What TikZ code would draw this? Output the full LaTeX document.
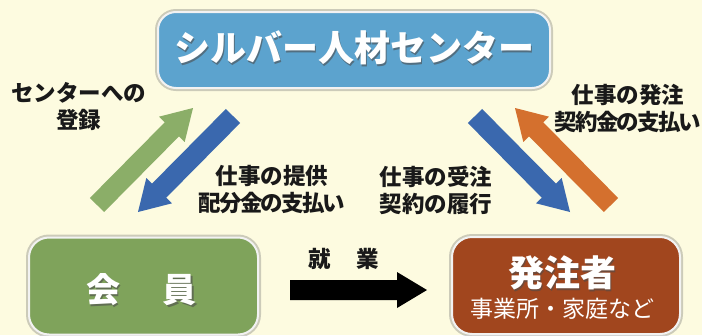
\documentclass[tikz,border=0pt]{standalone}
\usepackage{fontspec}
\newfontfamily\jp{Noto Sans CJK JP}
\newfontfamily\jpc{Noto Sans CJK JP}[LetterSpace=-8]
\usetikzlibrary{calc}
\definecolor{bg}{RGB}{253,251,224}
\definecolor{boxblue}{RGB}{92,163,206}
\definecolor{boxgreen}{RGB}{127,163,91}
\definecolor{boxbrown}{RGB}{161,70,30}
\definecolor{arrgreen}{RGB}{139,174,104}
\definecolor{arrblue}{RGB}{58,104,174}
\definecolor{arrorange}{RGB}{212,112,46}
\definecolor{txt}{RGB}{25,25,25}
\tikzset{
  panel/.style={rounded corners=18pt, draw=white!90!gray, line width=2pt,
    preaction={draw=black!55, line width=6pt, opacity=0.35}},
  lbl/.style={font=\jp\bfseries\fontsize{22.5}{27}\selectfont, text=txt, align=center, inner sep=0pt},
  wtext/.style={text=white, inner sep=0pt, align=center},
  shtext/.style={text=black!70, opacity=0.6, inner sep=0pt, align=center},
}
\newcommand\fatarrow[3]{%
  \coordinate (fa-n) at ($(#2)!30pt!(#1)$);
  \fill[#3] ($(#1)!10pt!90:(#2)$) -- ($(fa-n)!10pt!90:(#2)$) -- ($(fa-n)!18pt!90:(#2)$)
    -- (#2) -- ($(fa-n)!18pt!-90:(#2)$) -- ($(fa-n)!10pt!-90:(#2)$) -- ($(#1)!10pt!-90:(#2)$) -- cycle;}
\begin{document}
\begin{tikzpicture}[x=1pt,y=-1pt]
\useasboundingbox (0,0) rectangle (702,335);
\clip (0,0) rectangle (702,335);
\fill[bg] (0,0) rectangle (702,335);

% boxes
\node[panel, fill=boxblue, minimum width=392pt, minimum height=76pt] (center) at (354,50) {};
\node[panel, fill=boxgreen, rounded corners=20pt, minimum width=229pt, minimum height=97pt] (member) at (143.5,286) {};
\node[panel, fill=boxbrown, rounded corners=20pt, minimum width=228pt, minimum height=97pt] (client) at (566,285.5) {};

% box texts
\node[shtext, font=\jp\bfseries\fontsize{36}{40}\selectfont] at (355.5,49.5) {シルバー人材センター};
\node[wtext, font=\jp\bfseries\fontsize{36}{40}\selectfont] (centertext) at (354,48) {シルバー人材センター};
\node[shtext, font=\jp\bfseries\fontsize{34}{38}\selectfont] at (143,291.5) {会\hspace{43pt}員};
\node[wtext, font=\jp\bfseries\fontsize{34}{38}\selectfont] (membertext) at (141.5,290) {会\hspace{43pt}員};
\node[shtext, font=\jp\bfseries\fontsize{36}{40}\selectfont] at (563,274.5) {発注者};
\node[wtext, font=\jp\bfseries\fontsize{36}{40}\selectfont] (clienttext) at (562,273) {発注者};
\node[wtext, font=\jp\fontsize{23}{27}\selectfont] (clientsub) at (562,309) {事業所・家庭など};

% arrows
\coordinate (g1) at (97,205);  \coordinate (g2) at (193,108);
\coordinate (b1) at (233,116); \coordinate (b2) at (138,212);
\coordinate (c1) at (475,116); \coordinate (c2) at (570,212);
\coordinate (o1) at (611,205); \coordinate (o2) at (515,108);
\coordinate (k1) at (290,290); \coordinate (k2) at (427,290);
\fatarrow{g1}{g2}{arrgreen}
\fatarrow{b1}{b2}{arrblue}
\fatarrow{c1}{c2}{arrblue}
\fatarrow{o1}{o2}{arrorange}
\fatarrow{k1}{k2}{black}

% labels
\node[lbl] (lreg) at (79,107) {センターへの\\登録};
\node[lbl] (lprov) at (272,190) {仕事の提供\\{\jpc\bfseries 配分金の支払い}};
\node[lbl] (lrecv) at (436,190) {仕事の受注\\契約の履行};
\node[lbl] (lord) at (628,108) {仕事の発注\\{\jpc\bfseries 契約金の支払い}};
\node[lbl] (lwork) at (344,259) {就\hspace{26pt}業};
\end{tikzpicture}
\end{document}
